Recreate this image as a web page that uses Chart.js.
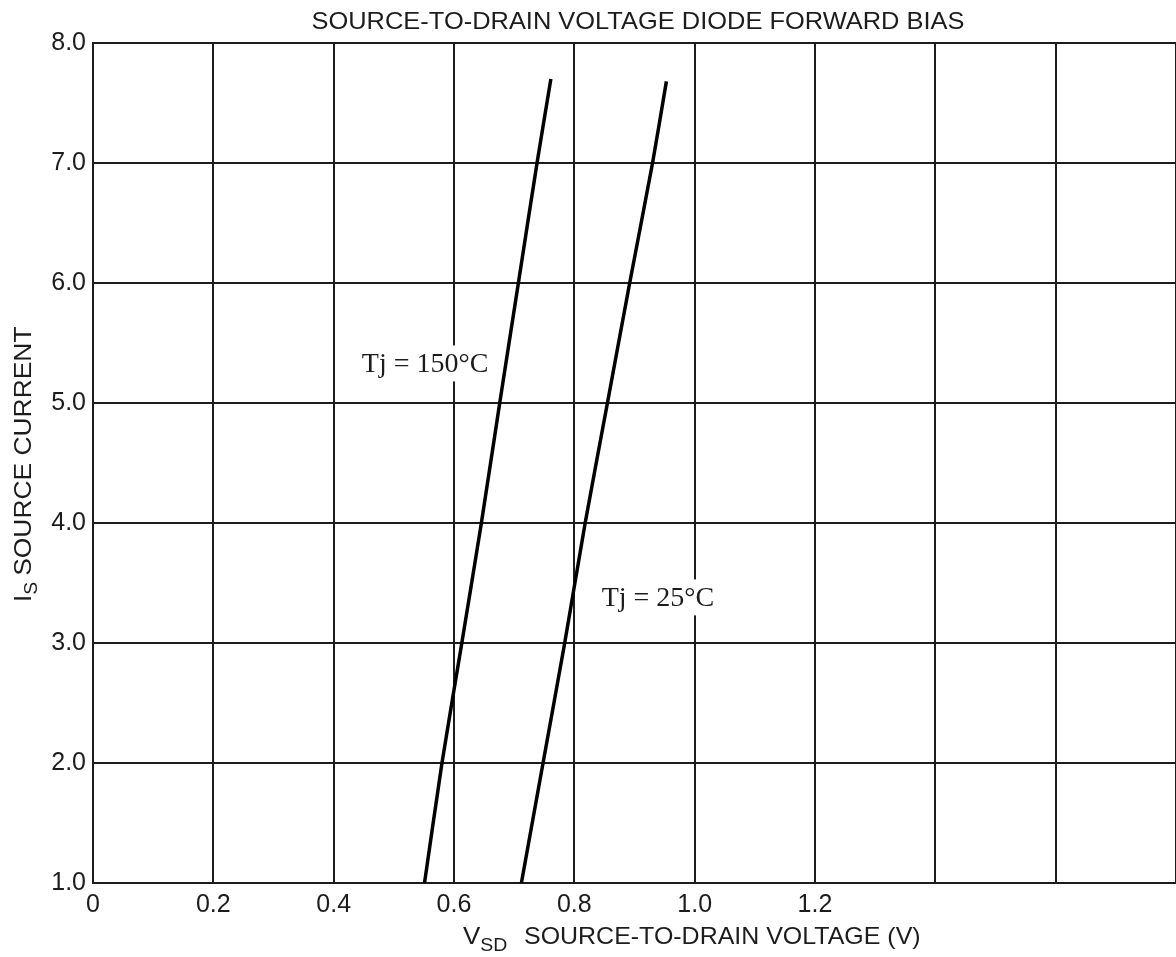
<!DOCTYPE html>
<html>
<head>
<meta charset="utf-8">
<script src="https://cdn.jsdelivr.net/npm/chart.js@4.4.1/dist/chart.umd.min.js"></script>
<style>
  html, body { margin: 0; padding: 0; background: #fff; overflow: hidden; }
  canvas { display: block; }
</style>
</head>
<body>
<canvas id="chart" width="1176" height="957"></canvas>
<script>
// values
const vsd150 = [0.551, 0.580, 0.613, 0.6455, 0.676, 0.707, 0.738, 0.761];
const is150  = [1.0,   2.0,   3.0,   4.0,    5.0,   6.0,   7.0,   7.70];
const vsd25  = [0.712, 0.748, 0.784, 0.818, 0.855, 0.892, 0.930, 0.953];
const is25   = [1.0,   2.0,   3.0,   4.0,   5.0,   6.0,   7.0,   7.68];

const xTicksShown = [0, 0.2, 0.4, 0.6, 0.8, 1.0, 1.2];
const curveLabels = ['Tj = 150°C', 'Tj = 25°C'];
const labelAt = [[0.552, 5.33], [0.939, 3.38]];

const chartTitle = 'SOURCE-TO-DRAIN VOLTAGE DIODE FORWARD BIAS';
const xTitle = ['V', 'SD', 'SOURCE-TO-DRAIN VOLTAGE (V)'];
const yTitle = ['I', 'S', 'SOURCE CURRENT'];

const SANS = '"Liberation Sans", Arial, sans-serif';
const SERIF = '"Liberation Serif", "Times New Roman", serif';
const INK = '#1c1c1c';

function toPoints(xs, ys) {
  return xs.map((x, i) => ({x: x, y: ys[i]}));
}

// stretched text, the scan is a bit wider than plain Helvetica
function wideText(ctx, str, x, y, sx) {
  ctx.save();
  ctx.translate(x, y);
  ctx.scale(sx, 1);
  ctx.fillText(str, 0, 0);
  const w = ctx.measureText(str).width * sx;
  ctx.restore();
  return w;
}

const decorations = {
  id: 'decorations',
  afterDatasetsDraw(chart) {
    const ctx = chart.ctx;
    const xs = chart.scales.x, ys = chart.scales.y;

    // curve labels with white backing over the grid
    ctx.save();
    ctx.font = '28px ' + SERIF;
    ctx.textAlign = 'center';
    ctx.textBaseline = 'middle';
    curveLabels.forEach((txt, i) => {
      const px = xs.getPixelForValue(labelAt[i][0]);
      const py = ys.getPixelForValue(labelAt[i][1]);
      const w = ctx.measureText(txt).width;
      ctx.fillStyle = '#fff';
      ctx.fillRect(px - w / 2 - 4, py - 18, w + 8, 36);
      ctx.fillStyle = INK;
      ctx.fillText(txt, px, py + 1);
    });
    ctx.restore();
  },
  afterDraw(chart) {
    const ctx = chart.ctx;
    ctx.save();
    ctx.fillStyle = INK;
    ctx.textBaseline = 'alphabetic';
    ctx.textAlign = 'left';

    // title
    ctx.font = '24px ' + SANS;
    const tw = ctx.measureText(chartTitle).width * 1.06;
    wideText(ctx, chartTitle, 638 - tw / 2, 29, 1.06);

    // x axis title with subscript
    let x = 463;
    ctx.font = '24px ' + SANS;
    x += wideText(ctx, xTitle[0], x, 944, 1.08);
    ctx.font = '18px ' + SANS;
    wideText(ctx, xTitle[1], x, 951, 1.08);
    ctx.font = '24px ' + SANS;
    wideText(ctx, xTitle[2], 524, 944, 1.04);

    // y axis title, rotated
    ctx.translate(31, 602);
    ctx.rotate(-Math.PI / 2);
    let y = 0;
    ctx.font = '24px ' + SANS;
    y += wideText(ctx, yTitle[0], y, 0, 1.08);
    ctx.font = '18px ' + SANS;
    y += wideText(ctx, yTitle[1], y, 6, 1.08);
    ctx.font = '24px ' + SANS;
    wideText(ctx, yTitle[2], y + 6, 0, 1.1);
    ctx.restore();
  }
};

const lineStyle = {
  showLine: true,
  borderColor: '#000',
  borderWidth: 3.5,
  pointRadius: 0,
  tension: 0.2,
  fill: false
};

new Chart(document.getElementById('chart'), {
  type: 'scatter',
  data: {
    datasets: [
      Object.assign({label: curveLabels[0], data: toPoints(vsd150, is150)}, lineStyle),
      Object.assign({label: curveLabels[1], data: toPoints(vsd25, is25)}, lineStyle)
    ]
  },
  options: {
    responsive: false,
    devicePixelRatio: 1,
    animation: false,
    layout: {padding: {top: 43, right: 0, left: 0, bottom: 0}},
    plugins: {
      legend: {display: false},
      tooltip: {enabled: false},
      title: {display: false}
    },
    scales: {
      x: {
        type: 'linear',
        min: 0,
        max: 1.8,
        afterFit: s => {
          s.height = 74;
          s.paddingLeft = 0;
          s.paddingRight = 0;
        },
        ticks: {
          stepSize: 0.2,
          padding: 7,
          color: INK,
          font: {family: SANS, size: 25},
          maxRotation: 0,
          autoSkip: false,
          callback: v => {
            const hit = xTicksShown.find(t => Math.abs(t - v) < 1e-6);
            if (hit === undefined) return '';
            return hit === 0 ? '0' : hit.toFixed(1);
          }
        },
        grid: {color: INK, lineWidth: 2, drawTicks: false},
        border: {display: true, color: INK, width: 2}
      },
      y: {
        type: 'linear',
        min: 1,
        max: 8,
        afterFit: s => { s.width = 93; },
        ticks: {
          stepSize: 1,
          padding: 7,
          color: INK,
          font: {family: SANS, size: 25},
          callback: v => v.toFixed(1)
        },
        grid: {color: INK, lineWidth: 2, drawTicks: false},
        border: {display: true, color: INK, width: 2}
      }
    }
  },
  plugins: [decorations]
});
</script>
</body>
</html>
